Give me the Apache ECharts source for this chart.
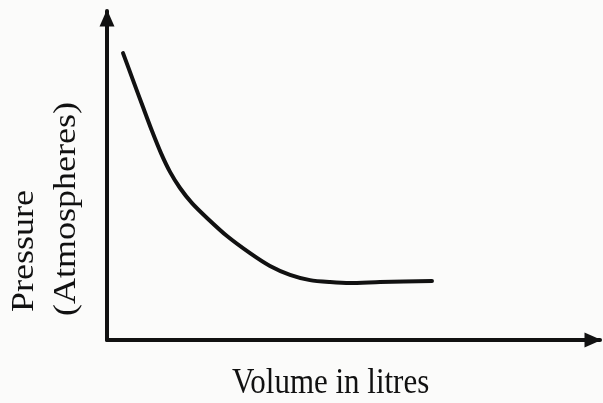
<!DOCTYPE html>
<html>
<head>
<meta charset="utf-8">
<script src="https://cdn.jsdelivr.net/npm/echarts@6/dist/echarts.min.js"></script>
<style>html,body{margin:0;padding:0;background:#fbfbfa;}#c{width:603px;height:403px;}</style>
</head>
<body>
<div id="c"></div>
<script>
// Volume (relative units) and pressure (relative units)
const volume   = [3.25, 5.27, 7.30, 9.13, 10.95, 12.78, 14.81, 17.24, 20.28, 24.34, 29.01, 33.06, 37.12, 41.18, 45.23, 49.29, 55.38, 65.92];
const pressure = [87.2, 79.0, 70.8, 63.5, 56.8, 51.1, 46.2, 41.6, 37.1, 31.6, 26.4, 22.5, 19.8, 18.2, 17.6, 17.3, 17.6, 17.9];
const xTitle = 'Volume in litres';
const yTitleLine1 = 'Pressure';
const yTitleLine2 = '(Atmospheres)';

const chart = echarts.init(document.getElementById('c'), null, {renderer: 'canvas'});
const axisLine = {
  show: true,
  onZero: false,
  symbol: ['none', 'triangle'],
  symbolSize: [15, 17],
  symbolOffset: [0, -7],
  lineStyle: {color: '#111', width: 4, cap: 'round'}
};
const txt = {fontSize: 36, fontFamily: '"Liberation Serif", "Times New Roman", serif', fill: '#111'};
chart.setOption({
  animation: false,
  backgroundColor: '#fbfbfa',
  grid: {left: 107, top: 11, right: 3, bottom: 63},
  xAxis: {
    type: 'value', min: 0, max: 100,
    axisLine: axisLine,
    axisTick: {show: false}, axisLabel: {show: false}, splitLine: {show: false}
  },
  yAxis: {
    type: 'value', min: 0, max: 100,
    axisLine: axisLine,
    axisTick: {show: false}, axisLabel: {show: false}, splitLine: {show: false}
  },
  series: [{
    type: 'line',
    data: volume.map((v, i) => [v, pressure[i]]),
    smooth: 0.25,
    showSymbol: false,
    lineStyle: {color: '#111', width: 4, cap: 'round', join: 'round'}
  }],
  graphic: [
    {type: 'text', x: 232, y: 384, scaleX: 0.86, silent: true,
     style: Object.assign({text: xTitle, align: 'left', verticalAlign: 'middle'}, txt)},
    {type: 'text', x: 25, y: 312, rotation: Math.PI / 2, scaleY: 0.85, silent: true,
     style: Object.assign({text: yTitleLine1, align: 'left', verticalAlign: 'middle'}, txt)},
    {type: 'text', x: 67, y: 316, rotation: Math.PI / 2, scaleY: 0.85, silent: true,
     style: Object.assign({text: yTitleLine2, align: 'left', verticalAlign: 'middle'}, txt)}
  ]
});
</script>
</body>
</html>
